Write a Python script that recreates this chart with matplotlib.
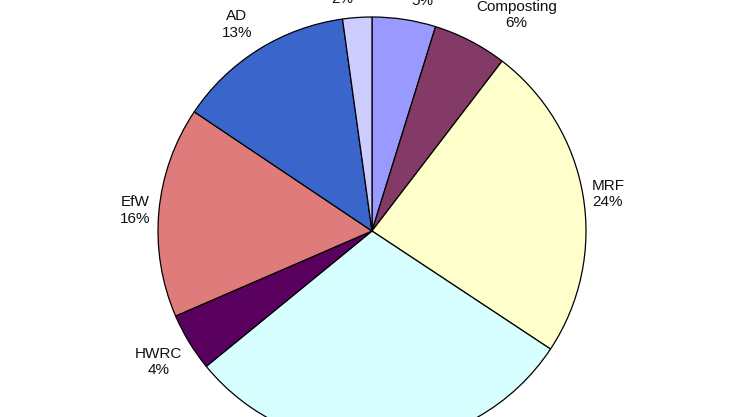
import numpy as np
import matplotlib
matplotlib.use("Agg")
import matplotlib.pyplot as plt

plt.rcParams["font.family"] = ["Liberation Sans", "DejaVu Sans"]

# Share of waste by treatment route (%), clockwise from 12 o'clock
routes = ["MBT", "Composting", "MRF", "Landfill", "HWRC", "EfW", "AD", "ATT"]
shares = [4.8, 5.6, 23.9, 29.8, 4.4, 15.9, 13.4, 2.2]
colours = ["#9999ff", "#843a66", "#ffffcc", "#d8ffff", "#5a005f",
           "#e07b7b", "#3a66cc", "#ccccff"]

fig = plt.figure(figsize=(7.3, 4.17), dpi=100)
ax = fig.add_axes([0, 0, 1, 1])

wedges, _ = ax.pie(shares, colors=colours, startangle=90, counterclock=False,
                   radius=1.0, center=(0, 0),
                   wedgeprops=dict(edgecolor="black", linewidth=0.9))

# Excel-style outside labels: box corner anchored just outside the rim
total = sum(shares)
for w, name, val in zip(wedges, routes, shares):
    ang = np.deg2rad((w.theta1 + w.theta2) / 2)
    c, s = np.cos(ang), np.sin(ang)
    ha = "left" if c > 0.05 else ("right" if c < -0.05 else "center")
    va = "bottom" if s > 0.4 else ("top" if s < -0.4 else "center")
    r = 1.055 if va == "bottom" else 1.04
    ax.text(r * c, r * s, f"{name}\n{round(100 * val / total)}%",
            ha=ha, va=va, multialignment="center", fontsize=11,
            linespacing=1.25, color="#111111")

# crop like the reference: pie centre at (372, 231) px, radius 214 px
ax.set_xlim(-372 / 214, (730 - 372) / 214)
ax.set_ylim(-(417 - 231) / 214, 231 / 214)
ax.set_aspect("equal")
ax.axis("off")

fig.savefig("out.png", dpi=100)
